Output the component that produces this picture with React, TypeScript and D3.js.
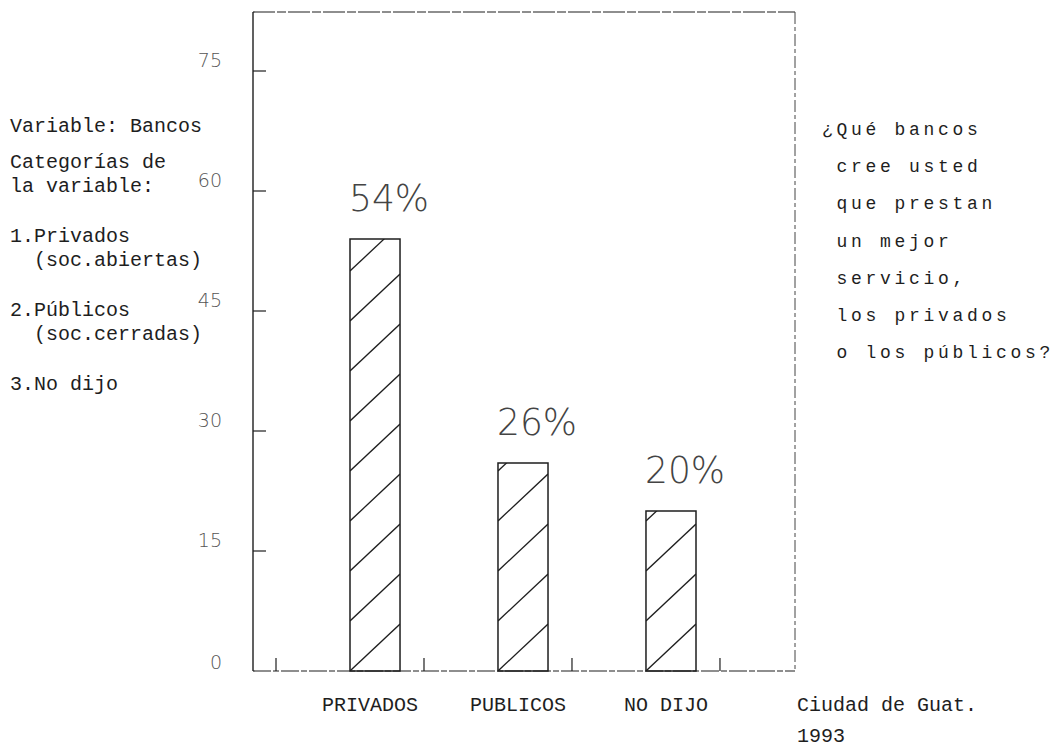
import * as d3 from 'd3';

const categories = ['PRIVADOS', 'PUBLICOS', 'NO DIJO'];
const values = [54, 26, 20];
const valueLabels = ['54%', '26%', '20%'];
const yTicks = [0, 15, 30, 45, 60, 75];

const leftNotes = [
  ['Variable: Bancos'],
  ['Categorías de', 'la variable:'],
  ['1.Privados', '  (soc.abiertas)'],
  ['2.Públicos', '  (soc.cerradas)'],
  ['3.No dijo'],
];
const question = [
  '¿Qué bancos',
  ' cree usted',
  ' que prestan',
  ' un mejor',
  ' servicio,',
  ' los privados',
  ' o los públicos?',
];
const place = ['Ciudad de Guat.', '1993'];

const W = 1056;
const H = 748;
const frame = { left: 253, top: 12, right: 795, bottom: 671 };

const mono = '"Liberation Mono", "DejaVu Sans Mono", monospace';
const thin = '"DejaVu Sans", "Open Sans", sans-serif';
const ink = '#1e1e1e';

export default function App() {
  const y = d3.scaleLinear().domain([0, 75]).range([frame.bottom, 71]);
  const x = d3.scaleBand<string>()
    .domain(categories)
    .range([350, 696])
    .paddingInner(0.662)
    .paddingOuter(0);
  const bw = x.bandwidth();
  const step = x.step();

  // ticks sit half a step left of every bar, plus one after the last
  const xTicks = categories.map(c => (x(c) as number) - step / 2);
  xTicks.push((x(categories[categories.length - 1]) as number) + step / 2);

  // baselines for the left notes
  const noteLines: { text: string; y: number }[] = [];
  let ny = 132;
  leftNotes.forEach((block, bi) => {
    if (bi === 1) ny += 12;
    if (bi > 1) ny += 26;
    block.forEach(t => {
      noteLines.push({ text: t, y: ny });
      ny += 24;
    });
  });

  const hatchGap = 50;
  const hatchRise = 47;

  return (
    <svg
      width={W}
      height={H}
      style={{ position: 'absolute', left: 0, top: 0, background: '#fff' }}
    >
      <defs>
        {categories.map((c, i) => (
          <clipPath id={`bar-clip-${i}`} key={c}>
            <rect x={x(c)} y={y(values[i])} width={bw} height={frame.bottom - y(values[i])} />
          </clipPath>
        ))}
      </defs>

      {/* frame */}
      <line x1={frame.left} x2={frame.left} y1={frame.top} y2={frame.bottom} stroke={ink} strokeWidth={1.4} />
      <line x1={frame.left} x2={frame.right} y1={frame.top} y2={frame.top} stroke={ink} strokeWidth={1.2} strokeDasharray="22 2 9 2" />
      <line x1={frame.right} x2={frame.right} y1={frame.top} y2={frame.bottom} stroke="#444" strokeWidth={1} strokeDasharray="12 3 4 3" />
      <line x1={frame.left} x2={frame.right} y1={frame.bottom} y2={frame.bottom} stroke={ink} strokeWidth={1.2} strokeDasharray="18 2 6 2" />

      {/* y ticks */}
      {yTicks.filter(t => t > 0).map(t => (
        <line key={t} x1={frame.left} x2={frame.left + 13} y1={y(t)} y2={y(t)} stroke={ink} strokeWidth={1.2} />
      ))}
      {yTicks.map(t => (
        <text
          key={'l' + t}
          x={222}
          y={y(t) - (t === 0 ? 8 : 10)}
          textAnchor="end"
          dominantBaseline="middle"
          fontFamily={thin}
          fontWeight={200}
          fontSize={19}
          fill="#555"
        >
          {t}
        </text>
      ))}

      {/* x ticks */}
      {xTicks.map((tx, i) => (
        <line key={i} x1={tx} x2={tx} y1={frame.bottom} y2={frame.bottom - 13} stroke={ink} strokeWidth={1.2} />
      ))}

      {/* bars */}
      {categories.map((c, i) => {
        const x0 = x(c) as number;
        const top = y(values[i]);
        const n = Math.ceil((frame.bottom - top + hatchRise) / hatchGap);
        return (
          <g key={c}>
            <g clipPath={`url(#bar-clip-${i})`}>
              {d3.range(n).map(k => (
                <line
                  key={k}
                  x1={x0}
                  y1={frame.bottom - k * hatchGap}
                  x2={x0 + bw}
                  y2={frame.bottom - k * hatchGap - hatchRise}
                  stroke={ink}
                  strokeWidth={1.3}
                />
              ))}
            </g>
            <rect
              x={x0}
              y={top}
              width={bw}
              height={frame.bottom - top}
              fill="none"
              stroke={ink}
              strokeWidth={1.5}
            />
            <text
              x={x0 + bw / 2 + 14}
              y={top - 28}
              textAnchor="middle"
              fontFamily={thin}
              fontWeight={200}
              fontSize={38}
              fill="#444"
              textLength={80}
              lengthAdjust="spacingAndGlyphs"
            >
              {valueLabels[i]}
            </text>
            <text
              x={x0 + bw / 2 - 5}
              y={711}
              textAnchor="middle"
              fontFamily={mono}
              fontSize={20}
              fill={ink}
              style={{ whiteSpace: 'pre' }}
            >
              {c}
            </text>
          </g>
        );
      })}

      {/* left notes */}
      {noteLines.map((l, i) => (
        <text key={i} x={10} y={l.y} fontFamily={mono} fontSize={20} fill={ink} style={{ whiteSpace: 'pre' }}>
          {l.text}
        </text>
      ))}

      {/* question */}
      {question.map((q, i) => (
        <text
          key={i}
          x={822}
          y={135 + i * 37.2}
          fontFamily={mono}
          fontSize={18}
          letterSpacing={3.7}
          fill={ink}
          style={{ whiteSpace: 'pre' }}
        >
          {q}
        </text>
      ))}

      {/* place and year */}
      {place.map((p, i) => (
        <text key={i} x={797} y={711 + i * 31} fontFamily={mono} fontSize={20} fill={ink}>
          {p}
        </text>
      ))}
    </svg>
  );
}
